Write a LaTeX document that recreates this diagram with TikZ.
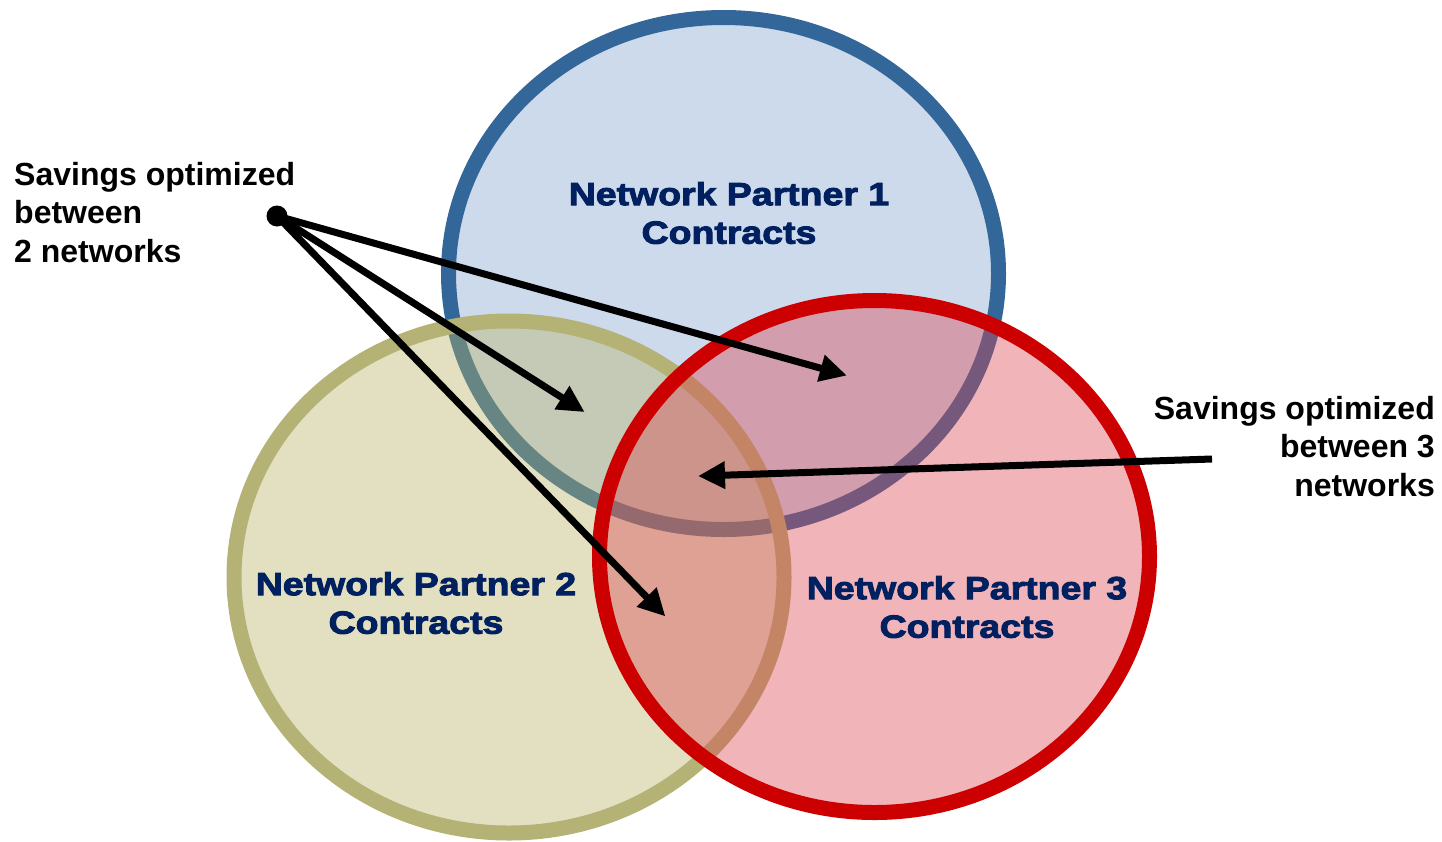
\documentclass[tikz,border=0pt]{standalone}
\usepackage{fontspec}
\setmainfont{Liberation Sans}
\newfontfamily\heavyfont{Liberation Sans}[BoldFeatures={FakeBold=3,FakeStretch=1.17}]
\usetikzlibrary{arrows.meta}

\definecolor{ringblue}{RGB}{51,103,153}
\definecolor{ringolive}{RGB}{181,178,118}
\definecolor{ringred}{RGB}{204,0,0}
\definecolor{tintblue}{RGB}{130,162,205}
\definecolor{tintolive}{RGB}{183,178,100}
\definecolor{tintred}{RGB}{218,67,80}
\definecolor{navytext}{RGB}{0,32,96}

\tikzset{
  setfill/.style={fill=#1, fill opacity=0.4},
  setring/.style={draw=#1, line width=15pt},
  setlabel/.style={font=\heavyfont\bfseries\fontsize{32}{38.5}\selectfont, text=navytext, align=center, inner sep=0pt},
  note/.style={font=\bfseries\fontsize{32}{38.5}\selectfont, text=black, inner sep=0pt},
  pointer/.style={line width=7pt, black, -{Triangle[length=27pt,width=26pt]}, shorten >=-2pt},
}

\begin{document}
\begin{tikzpicture}[x=1pt,y=-1pt]
\useasboundingbox (0,0) rectangle (1442,841);

% centres of the three contract sets
\coordinate (c1) at (723.5,273.5);
\coordinate (c2) at (509,577);
\coordinate (c3) at (874.5,556.5);

% set 1 (blue)
\path[setfill=tintblue] (c1) ellipse [x radius=275, y radius=256];
\path[setring=ringblue] (c1) ellipse [x radius=275, y radius=256];

% set 2 (olive)
\path[setfill=tintolive] (c2) ellipse [x radius=275, y radius=256];
\path[setring=ringolive] (c2) ellipse [x radius=275, y radius=256];

% set 3 (red)
\path[setfill=tintred] (c3) ellipse [x radius=275, y radius=256];
\path[setring=ringred] (c3) ellipse [x radius=275, y radius=256];

% set names
\node[setlabel] (n1) at (729,213) {Network Partner 1\\Contracts};
\node[setlabel] (n2) at (416,603) {Network Partner 2\\Contracts};
\node[setlabel] (n3) at (967,607) {Network Partner 3\\Contracts};

% callouts
\node[note, anchor=north west, align=left] (left) at (14,162) {Savings optimized\\between\\2 networks};
\node[note, anchor=north east, align=right] (right) at (1435,396) {Savings optimized\\between 3\\networks};

% pointer origin and targets
\node[circle, fill=black, minimum size=21pt, inner sep=0pt] (dot) at (277,216) {};
\coordinate (t12) at (583,411);
\coordinate (t13) at (845,375);
\coordinate (t23) at (664,615);
\coordinate (t123) at (700,476);
\coordinate (src) at (1212,459);

\draw[pointer] (dot.center) -- (t13);
\draw[pointer] (dot.center) -- (t12);
\draw[pointer] (dot.center) -- (t23);
\draw[pointer] (src) -- (t123);
\end{tikzpicture}
\end{document}
